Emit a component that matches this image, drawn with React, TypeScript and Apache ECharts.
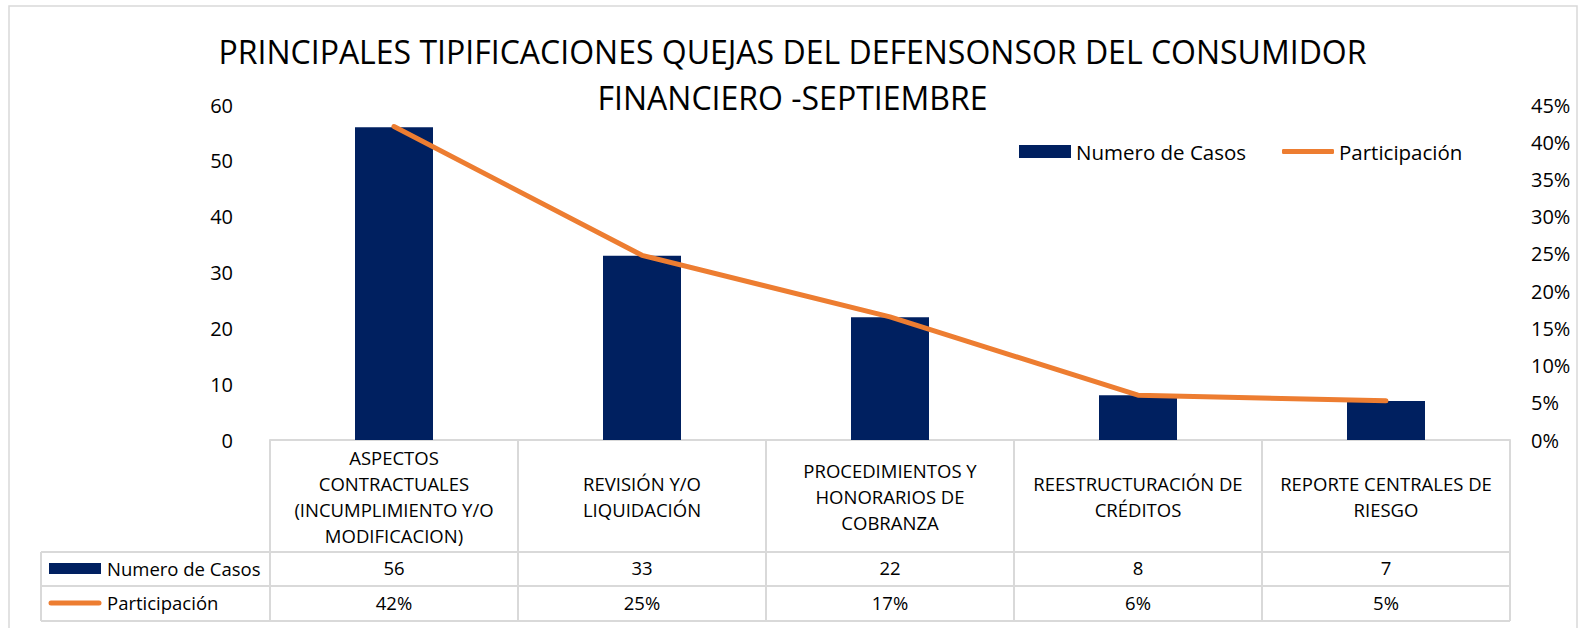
import React, { useEffect, useRef } from "react";
import * as echarts from "echarts";

const titleLines = ["PRINCIPALES TIPIFICACIONES QUEJAS DEL DEFENSONSOR DEL CONSUMIDOR", "FINANCIERO -SEPTIEMBRE"];
const categories = [
  "ASPECTOS\nCONTRACTUALES\n(INCUMPLIMIENTO Y/O\nMODIFICACION)",
  "REVISIÓN Y/O\nLIQUIDACIÓN",
  "PROCEDIMIENTOS Y\nHONORARIOS DE\nCOBRANZA",
  "REESTRUCTURACIÓN DE\nCRÉDITOS",
  "REPORTE CENTRALES DE\nRIESGO",
];
const seriesNames = ["Numero de Casos", "Participación"];
const casos = [56, 33, 22, 8, 7];
const participacion = [0.4211, 0.2481, 0.1654, 0.0602, 0.0526];
const leftAxis = { min: 0, max: 60, interval: 10 };
const rightAxis = { min: 0, max: 0.45, interval: 0.05 };

const NAVY = "#002060";
const ORANGE = "#ED7D31";
const GRAYLINE = "#d9d9d9";
const FONT = "'Open Sans', sans-serif";
const pct = (v: number) => Math.round(v * 100) + "%";

export default function App() {
  const ref = useRef<HTMLDivElement>(null);
  useEffect(() => {
    document.body.style.margin = "0";
    const chart = echarts.init(ref.current!, null, { renderer: "svg" });
    const gl = { left: 270, right: 1510, top: 105, bottom: 440 };
    const rows = [552, 586, 621];
    const graphics: any[] = [
      {
        type: "rect",
        shape: { x: 9, y: 6, width: 1568, height: 700 },
        style: { fill: "none", stroke: GRAYLINE, lineWidth: 1.5 },
        silent: true,
      },
      ...rows.map((y) => ({
        type: "line",
        shape: { x1: 41, y1: y, x2: gl.right, y2: y },
        style: { stroke: GRAYLINE, lineWidth: 2 },
        silent: true,
      })),
      {
        type: "line",
        shape: { x1: 41, y1: rows[0], x2: 41, y2: rows[2] },
        style: { stroke: GRAYLINE, lineWidth: 2 },
        silent: true,
      },
      {
        type: "rect",
        shape: { x: 49, y: 563, width: 52, height: 11 },
        style: { fill: NAVY },
      },
      {
        type: "text",
        x: 107,
        y: 568,
        style: { text: seriesNames[0], fontSize: 18.5, fontFamily: FONT, fill: "#000", verticalAlign: "middle" },
      },
      {
        type: "line",
        shape: { x1: 51, y1: 603, x2: 99, y2: 603 },
        style: { stroke: ORANGE, lineWidth: 5, lineCap: "round" },
      },
      {
        type: "text",
        x: 107,
        y: 602,
        style: { text: seriesNames[1], fontSize: 18.5, fontFamily: FONT, fill: "#000", verticalAlign: "middle" },
      },
    ];
    const legendText = { fontSize: 20.5, color: "#000", fontFamily: FONT };
    chart.setOption({
      animation: false,
      textStyle: { fontFamily: FONT },
      title: {
        text: titleLines.join("\n"),
        left: "center",
        top: 28,
        padding: 0,
        textStyle: { fontSize: 32, fontWeight: "normal", color: "#000", lineHeight: 46, fontFamily: FONT },
      },
      legend: [
        {
          left: 1019,
          top: 141,
          padding: 0,
          itemWidth: 52,
          itemHeight: 13,
          textStyle: legendText,
          data: [{ name: seriesNames[0], icon: "rect" }],
        },
        {
          left: 1282,
          top: 141,
          padding: 0,
          itemWidth: 52,
          itemHeight: 5,
          textStyle: legendText,
          data: [{ name: seriesNames[1], icon: "roundRect" }],
        },
      ],
      grid: { left: gl.left, right: 1585 - gl.right, top: gl.top, bottom: 628 - gl.bottom, containLabel: false },
      xAxis: [
        {
          type: "category",
          data: categories,
          position: "bottom",
          axisLine: { show: true, lineStyle: { color: GRAYLINE, width: 2 } },
          axisTick: { show: true, length: 181, lineStyle: { color: GRAYLINE, width: 2 } },
          axisLabel: {
            interval: 0,
            margin: 56,
            verticalAlign: "middle",
            lineHeight: 26,
            fontSize: 18.5,
            color: "#000",
            fontFamily: FONT,
            align: "center",
          },
        },
        {
          type: "category",
          data: categories,
          position: "bottom",
          axisLine: { show: false },
          axisTick: { show: false },
          axisLabel: {
            interval: 0,
            margin: 127,
            verticalAlign: "middle",
            fontSize: 18.5,
            color: "#000",
            fontFamily: FONT,
            formatter: (_v: string, i: number) => String(casos[i]),
          },
        },
        {
          type: "category",
          data: categories,
          position: "bottom",
          axisLine: { show: false },
          axisTick: { show: false },
          axisLabel: {
            interval: 0,
            margin: 162,
            verticalAlign: "middle",
            fontSize: 18.5,
            color: "#000",
            fontFamily: FONT,
            formatter: (_v: string, i: number) => pct(participacion[i]),
          },
        },
      ],
      yAxis: [
        {
          type: "value",
          ...leftAxis,
          position: "left",
          axisLine: { show: false },
          axisTick: { show: false },
          splitLine: { show: false },
          axisLabel: { margin: 37, fontSize: 20, color: "#000", fontFamily: FONT },
        },
        {
          type: "value",
          ...rightAxis,
          position: "right",
          axisLine: { show: false },
          axisTick: { show: false },
          splitLine: { show: false },
          axisLabel: { margin: 21, fontSize: 20, color: "#000", fontFamily: FONT, formatter: (v: number) => pct(v) },
        },
      ],
      series: [
        {
          name: seriesNames[0],
          type: "bar",
          xAxisIndex: 0,
          yAxisIndex: 0,
          data: casos,
          barWidth: 78,
          itemStyle: { color: NAVY },
        },
        {
          name: seriesNames[1],
          type: "line",
          xAxisIndex: 0,
          yAxisIndex: 1,
          data: participacion,
          symbol: "none",
          lineStyle: { color: ORANGE, width: 5, cap: "round", join: "round" },
          itemStyle: { color: ORANGE },
        },
      ],
      graphic: graphics,
    });
    return () => chart.dispose();
  }, []);
  return <div ref={ref} style={{ width: 1585, height: 628 }} />;
}
